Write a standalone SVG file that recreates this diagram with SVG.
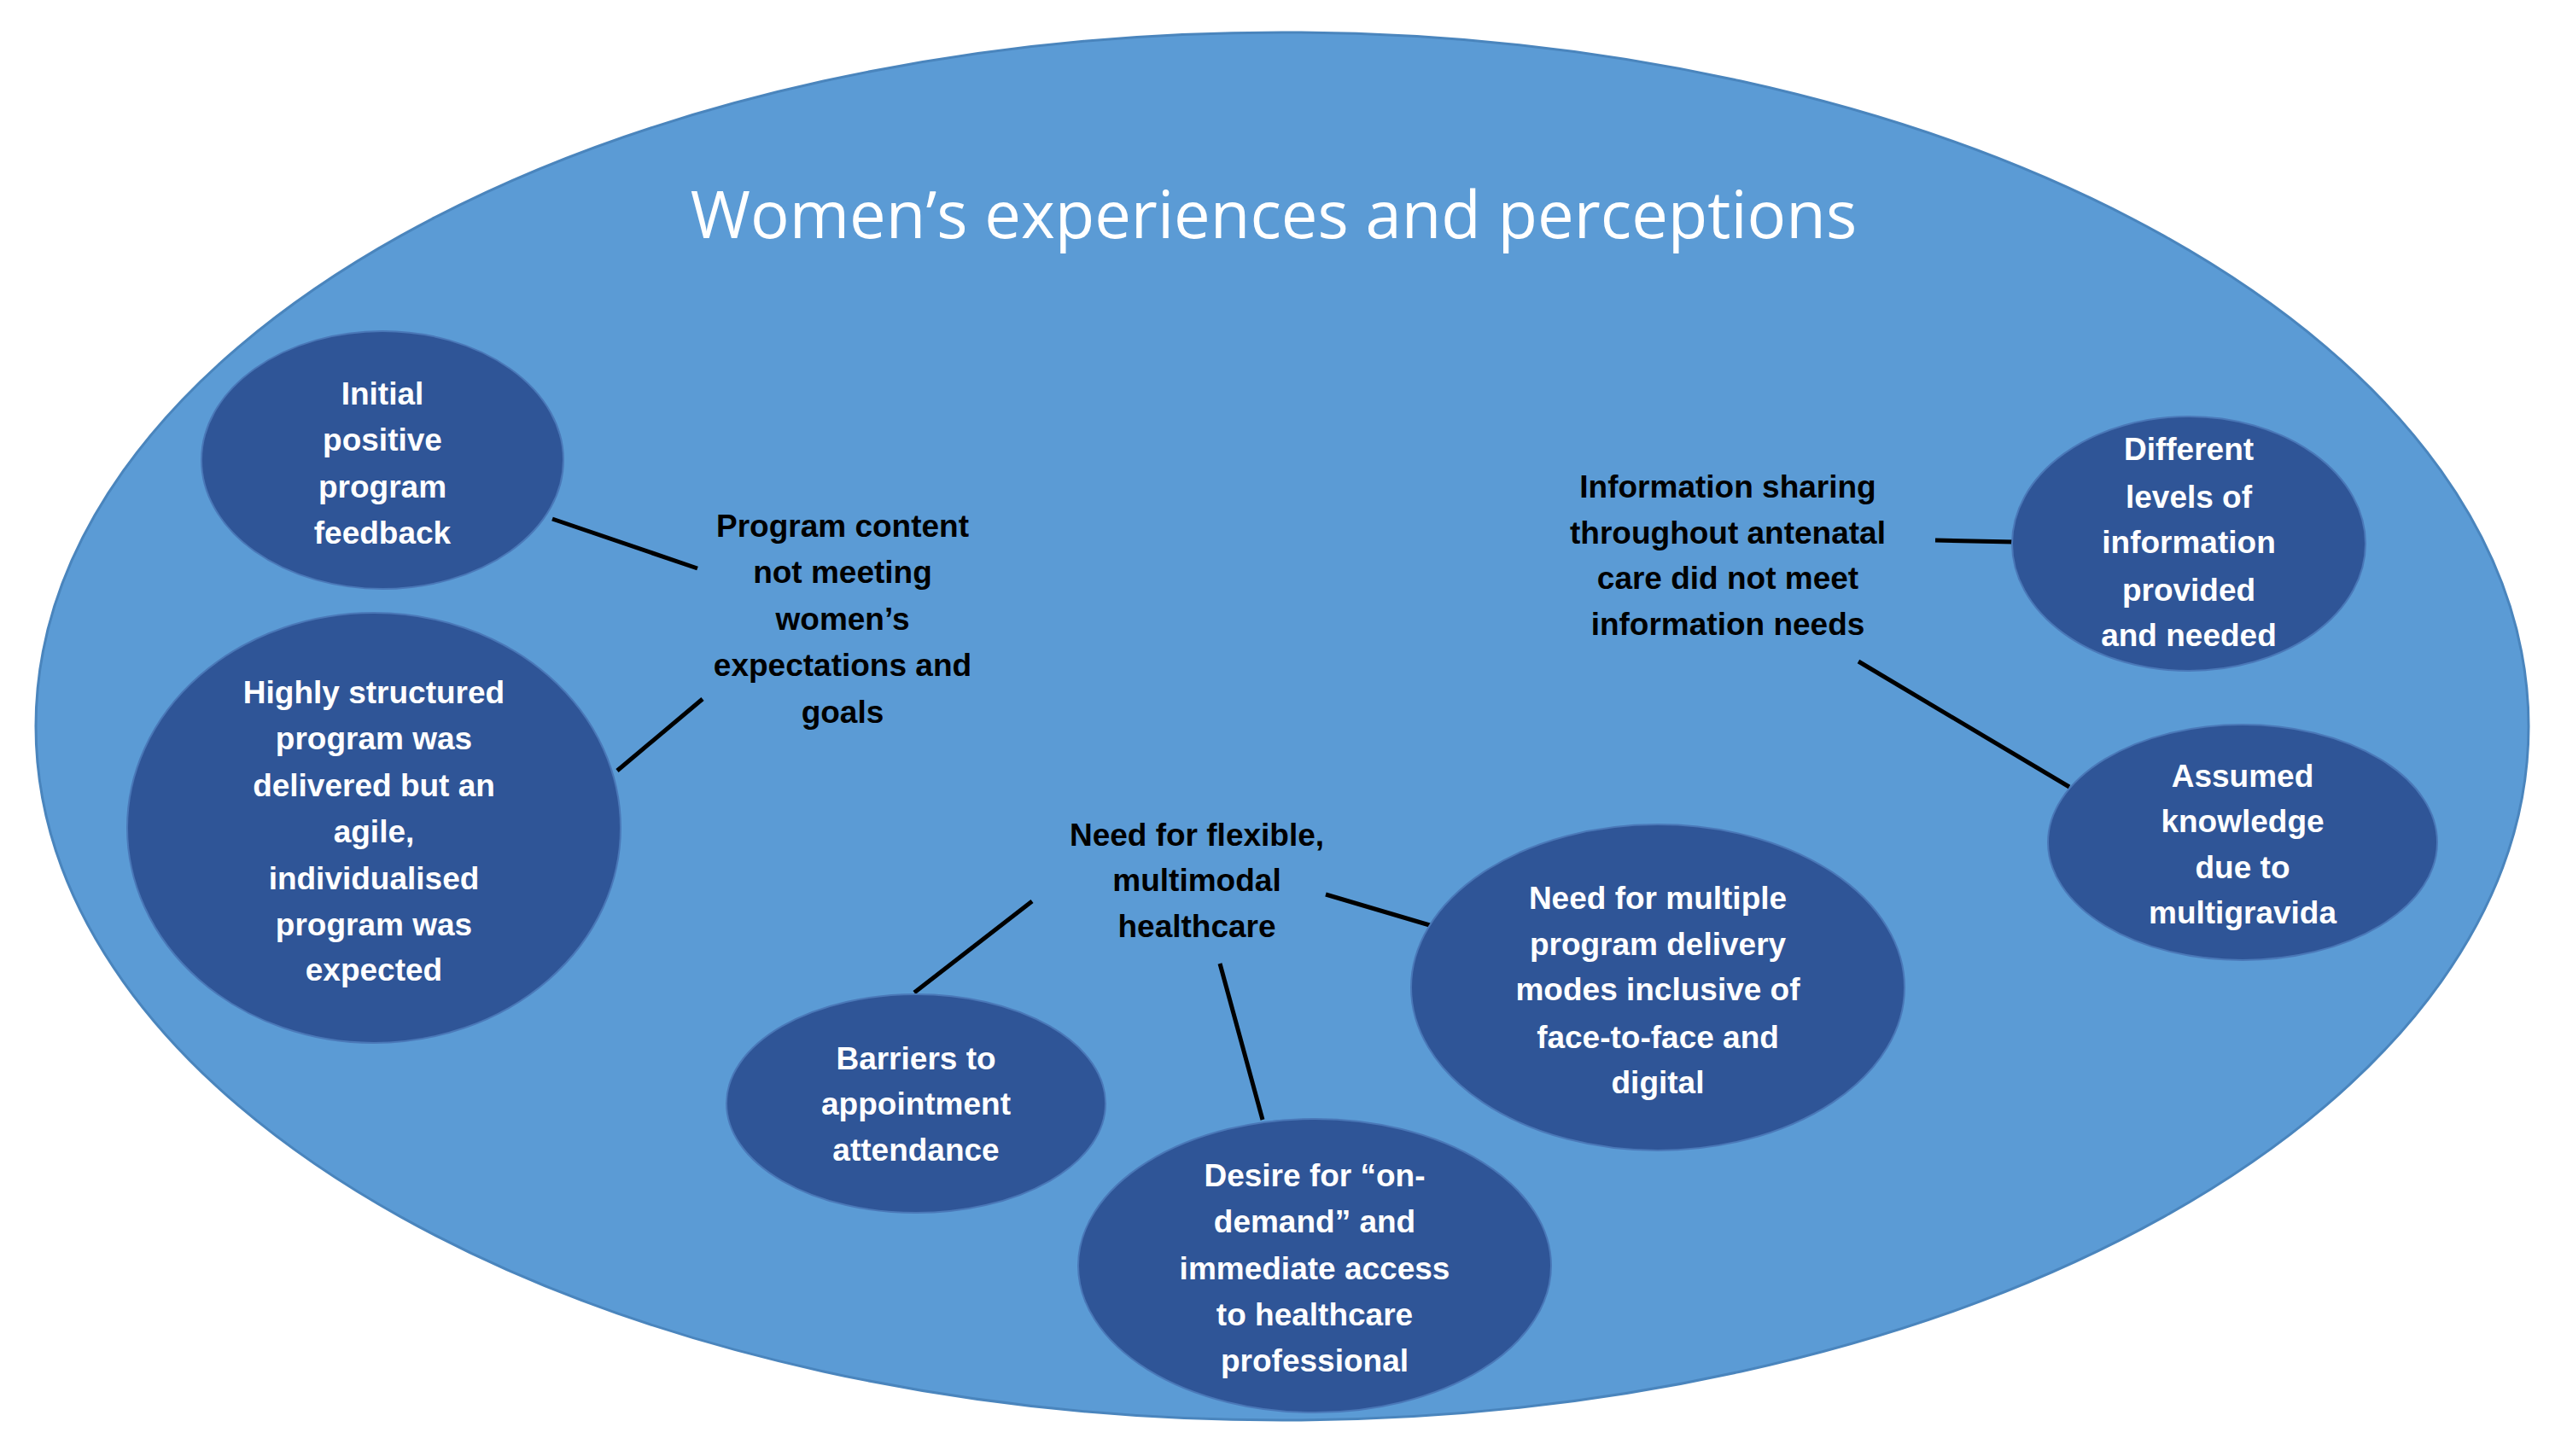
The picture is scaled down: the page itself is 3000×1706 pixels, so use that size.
<svg xmlns="http://www.w3.org/2000/svg" width="3000" height="1706" viewBox="0 0 3000 1706">
<style>
.n{fill:#2F5597;stroke:#4a78b8;stroke-width:2}
.t{font-family:"Liberation Sans",Arial,sans-serif;font-weight:bold;font-size:37px;text-anchor:middle;dominant-baseline:central}
.w{fill:#fff}
.b{fill:#000}
.c line{stroke:#000;stroke-width:5}
</style>
<rect width="3000" height="1706" fill="#fff"/>
<ellipse cx="1502" cy="851" rx="1460" ry="813" fill="#5B9BD5" stroke="#4a85bd" stroke-width="3"/>
<text x="1492" y="249" font-family="'Open Sans',sans-serif" font-size="76" fill="#fff" text-anchor="middle" dominant-baseline="central">Women’s experiences and perceptions</text>
<g class="c">
<line x1="647" y1="608" x2="817" y2="666"/>
<line x1="723" y1="903" x2="823" y2="819"/>
<line x1="1209" y1="1056" x2="1071" y2="1163"/>
<line x1="1553" y1="1048" x2="1678" y2="1085"/>
<line x1="1429" y1="1129" x2="1479" y2="1312"/>
<line x1="2267" y1="633" x2="2359" y2="635"/>
<line x1="2177" y1="775" x2="2424" y2="922"/>
</g>
<g id="n1"><ellipse class="n" cx="448" cy="539" rx="212" ry="151"/><text class="t w"><tspan x="448" y="461">Initial</tspan><tspan x="448" y="515">positive</tspan><tspan x="448" y="570">program</tspan><tspan x="448" y="624">feedback</tspan></text></g>
<g id="n2"><ellipse class="n" cx="438" cy="970" rx="289" ry="252"/><text class="t w"><tspan x="438" y="811">Highly structured</tspan><tspan x="438" y="865">program was</tspan><tspan x="438" y="920">delivered but an</tspan><tspan x="438" y="974">agile,</tspan><tspan x="438" y="1029">individualised</tspan><tspan x="438" y="1083">program was</tspan><tspan x="438" y="1136">expected</tspan></text></g>
<g id="n3"><ellipse class="n" cx="1073" cy="1293" rx="222" ry="128"/><text class="t w"><tspan x="1073" y="1240">Barriers to</tspan><tspan x="1073" y="1293">appointment</tspan><tspan x="1073" y="1347">attendance</tspan></text></g>
<g id="n4"><ellipse class="n" cx="1540" cy="1483" rx="277" ry="172"/><text class="t w"><tspan x="1540" y="1377">Desire for “on-</tspan><tspan x="1540" y="1431">demand” and</tspan><tspan x="1540" y="1486">immediate access</tspan><tspan x="1540" y="1540">to healthcare</tspan><tspan x="1540" y="1594">professional</tspan></text></g>
<g id="n5"><ellipse class="n" cx="1942" cy="1157" rx="289" ry="191"/><text class="t w"><tspan x="1942" y="1052">Need for multiple</tspan><tspan x="1942" y="1106">program delivery</tspan><tspan x="1942" y="1159">modes inclusive of</tspan><tspan x="1942" y="1215">face-to-face and</tspan><tspan x="1942" y="1268">digital</tspan></text></g>
<g id="n6"><ellipse class="n" cx="2564" cy="637" rx="207" ry="149"/><text class="t w"><tspan x="2564" y="526">Different</tspan><tspan x="2564" y="582">levels of</tspan><tspan x="2564" y="635">information</tspan><tspan x="2564" y="691">provided</tspan><tspan x="2564" y="744">and needed</tspan></text></g>
<g id="n7"><ellipse class="n" cx="2627" cy="987" rx="228" ry="138"/><text class="t w"><tspan x="2627" y="909">Assumed</tspan><tspan x="2627" y="962">knowledge</tspan><tspan x="2627" y="1016">due to</tspan><tspan x="2627" y="1069">multigravida</tspan></text></g>
<g id="lA"><text class="t b"><tspan x="987" y="616">Program content</tspan><tspan x="987" y="670">not meeting</tspan><tspan x="987" y="725">women’s</tspan><tspan x="987" y="779">expectations and</tspan><tspan x="987" y="834">goals</tspan></text></g>
<g id="lB"><text class="t b"><tspan x="2024" y="570">Information sharing</tspan><tspan x="2024" y="624">throughout antenatal</tspan><tspan x="2024" y="677">care did not meet</tspan><tspan x="2024" y="731">information needs</tspan></text></g>
<g id="lC"><text class="t b"><tspan x="1402" y="978">Need for flexible,</tspan><tspan x="1402" y="1031">multimodal</tspan><tspan x="1402" y="1085">healthcare</tspan></text></g>
</svg>
